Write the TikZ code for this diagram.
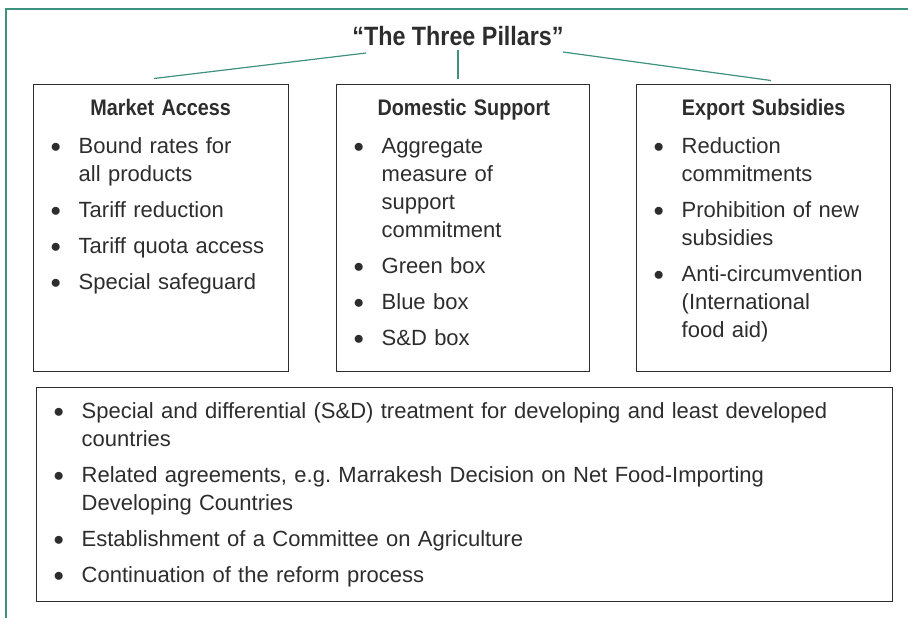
\documentclass[tikz,border=0pt]{standalone}
\usepackage{fontspec}
\setmainfont{Liberation Sans}
\newfontfamily\headfont[FakeStretch=0.88]{Liberation Sans}
\usetikzlibrary{positioning, calc}

\definecolor{pillarteal}{RGB}{62,145,127}
\definecolor{inkgray}{RGB}{45,45,45}

% centred heading of a pillar
\newcommand{\pillarhead}[1]{{\centering\headfont\bfseries\fontsize{22.5}{28}\selectfont #1\par}\vspace{10pt}}
% bullet line with hanging indent
\newcommand{\pillaritem}[1]{\noindent\hangindent=28pt\hangafter=1%
  \makebox[28pt][l]{\raisebox{1pt}{$\bullet$}}#1\par\vspace{8pt}}

\tikzset{
  pillarbox/.style={draw=inkgray, line width=1pt, inner sep=0pt},
  pillartext/.style={anchor=north west, inner sep=0pt, align=left, text=inkgray,
    font=\fontsize{22}{28}\selectfont},
  link/.style={draw=pillarteal, line width=1.2pt}
}

\begin{document}
\begin{tikzpicture}[x=1pt, y=-1pt]
\useasboundingbox (0,0) rectangle (908,618);

% open frame round the figure
\draw[pillarteal, line width=1.3pt] (6,618) -- (6,9) -- (908,9);

% title
\node[anchor=base, inner sep=0pt, text=inkgray,
  font=\headfont\bfseries\fontsize{26.5}{30}\selectfont] (title) at (458,46) {“The Three Pillars”};

% the three pillars
\node[pillarbox, minimum width=255pt, minimum height=286pt] (ma) at (160.5,228) {};
\node[pillarbox, minimum width=253pt, minimum height=286pt] (ds) at (462.5,228) {};
\node[pillarbox, minimum width=254pt, minimum height=286pt] (es) at (763,228) {};

\node[pillartext, text width=220pt] (matext) at ([xshift=18pt,yshift=-14pt]ma.north west) {%
  \pillarhead{Market Access}
  \pillaritem{Bound rates for\newline all products}
  \pillaritem{Tariff reduction}
  \pillaritem{Tariff quota access}
  \pillaritem{Special safeguard}};
\node[pillartext, text width=220pt] (dstext) at ([xshift=18pt,yshift=-14pt]ds.north west) {%
  \pillarhead{Domestic Support}
  \pillaritem{Aggregate\newline measure of\newline support\newline commitment}
  \pillaritem{Green box}
  \pillaritem{Blue box}
  \pillaritem{S\&D box}};
\node[pillartext, text width=220pt] (estext) at ([xshift=18pt,yshift=-14pt]es.north west) {%
  \pillarhead{Export Subsidies}
  \pillaritem{Reduction\newline commitments}
  \pillaritem{Prohibition of new\newline subsidies}
  \pillaritem{Anti-circumvention\newline (International\newline food aid)}};

% links from the title to the pillars
\draw[link] ([xshift=-92pt,yshift=-7pt]title.base) -- ([xshift=-6.5pt,yshift=6pt]ma.north);
\draw[link] ([yshift=-4pt]title.base) -- ([xshift=-4.5pt,yshift=5pt]ds.north);
\draw[link] ([xshift=105pt,yshift=-6pt]title.base) -- ([xshift=8pt,yshift=4pt]es.north);

% common provisions
\node[pillarbox, minimum width=856pt, minimum height=214pt] (common) at (464,494) {};
\node[pillartext, text width=820pt] (commontext) at ([xshift=18pt,yshift=-16pt]common.north west) {%
  \pillaritem{Special and differential (S\&D) treatment for developing and least developed\newline countries}
  \pillaritem{Related agreements, e.g.\ Marrakesh Decision on Net Food-Importing\newline Developing Countries}
  \pillaritem{Establishment of a Committee on Agriculture}
  \pillaritem{Continuation of the reform process}};
\end{tikzpicture}
\end{document}
